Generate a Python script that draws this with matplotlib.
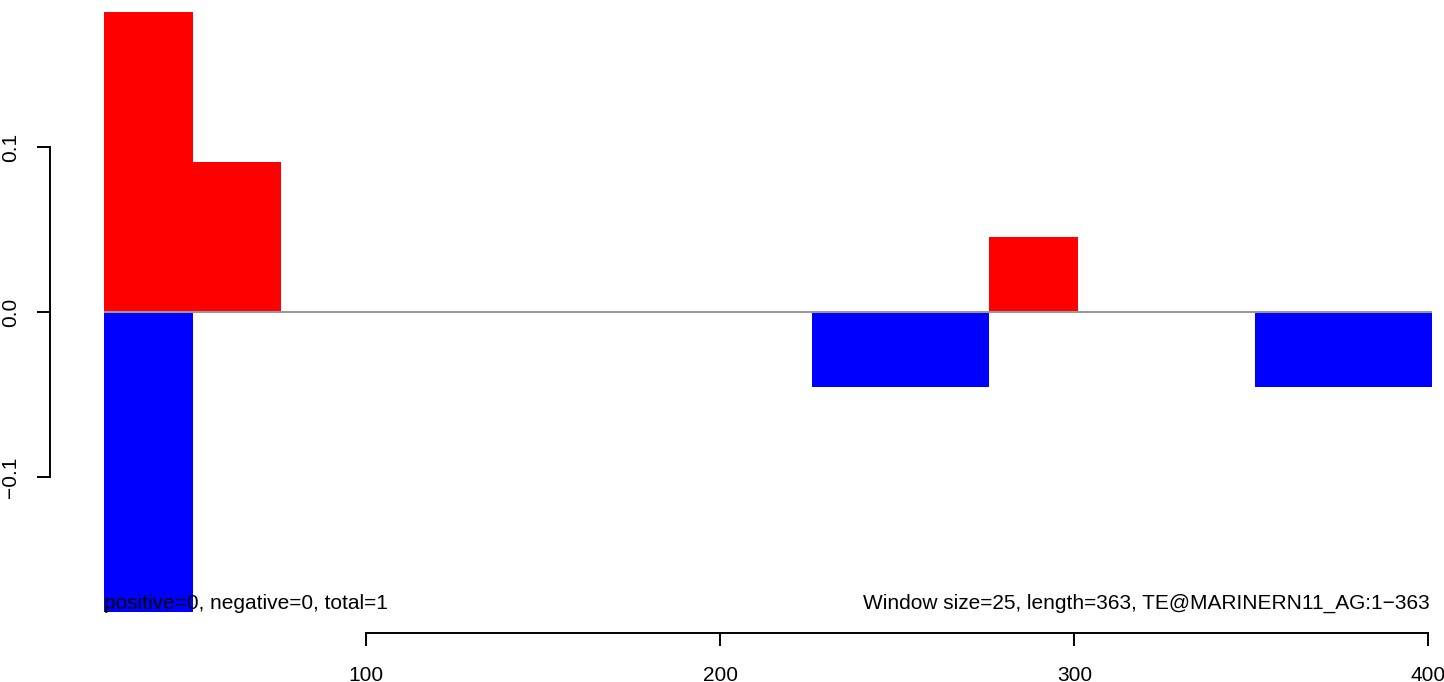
import matplotlib
matplotlib.use("Agg")
import matplotlib.pyplot as plt

plt.rcParams['font.family'] = ['Liberation Sans', 'DejaVu Sans']

# window left edges (window size 25)
window_starts = [26, 51, 76, 101, 126, 151, 176, 201, 226, 251, 276, 301, 326, 351, 376]
window_size = 25
pos_values = [0.1818, 0.0909, 0, 0, 0, 0, 0, 0, 0, 0, 0.0455, 0, 0, 0, 0]
neg_values = [-0.1818, 0, 0, 0, 0, 0, 0, 0, -0.0455, -0.0455, 0, 0, 0, -0.0455, -0.0455]
x_ticks = [100, 200, 300, 400]
y_ticks = [-0.1, 0.0, 0.1]
y_tick_labels = ["\u22120.1", "0.0", "0.1"]
left_text = "positive=0, negative=0, total=1"
right_text = "Window size=25, length=363, TE@MARINERN11_AG:1\u2212363"

fig = plt.figure(figsize=(14.44, 6.82), dpi=100)
ax = fig.add_axes([0, 0, 1, 1])
ax.set_xlim(-3.47, 404.4)
ax.set_ylim(-0.2242, 0.1891)

ax.bar(window_starts, pos_values, width=window_size, align='edge', color='#FF0000', linewidth=0)
ax.bar(window_starts, neg_values, width=window_size, align='edge', color='#0000FF', linewidth=0)
ax.hlines(0, window_starts[0], window_starts[-1] + window_size, color='#999999', lw=1.5, zorder=3)

for s in ['top', 'right']:
    ax.spines[s].set_visible(False)
ax.spines['left'].set_position(('data', 10.65))
ax.spines['left'].set_bounds(-0.1, 0.1)
ax.spines['bottom'].set_position(('data', -0.1945))
ax.spines['bottom'].set_bounds(100, 400)
for s in ['left', 'bottom']:
    ax.spines[s].set_linewidth(1.4)

ax.set_xticks(x_ticks)
ax.set_xticklabels([str(v) for v in x_ticks])
ax.set_yticks(y_ticks)
ax.set_yticklabels(y_tick_labels, rotation=90, va='center')
ax.tick_params(axis='both', length=9.5, width=1.4, labelsize=15, direction='out')
ax.tick_params(axis='x', pad=14)
ax.tick_params(axis='y', pad=12)

ax.text(window_starts[0], -0.1800, left_text, fontsize=15, ha='left', va='baseline')
ax.text(400.5, -0.1800, right_text, fontsize=15, ha='right', va='baseline')

fig.savefig("out.png", dpi=100)
